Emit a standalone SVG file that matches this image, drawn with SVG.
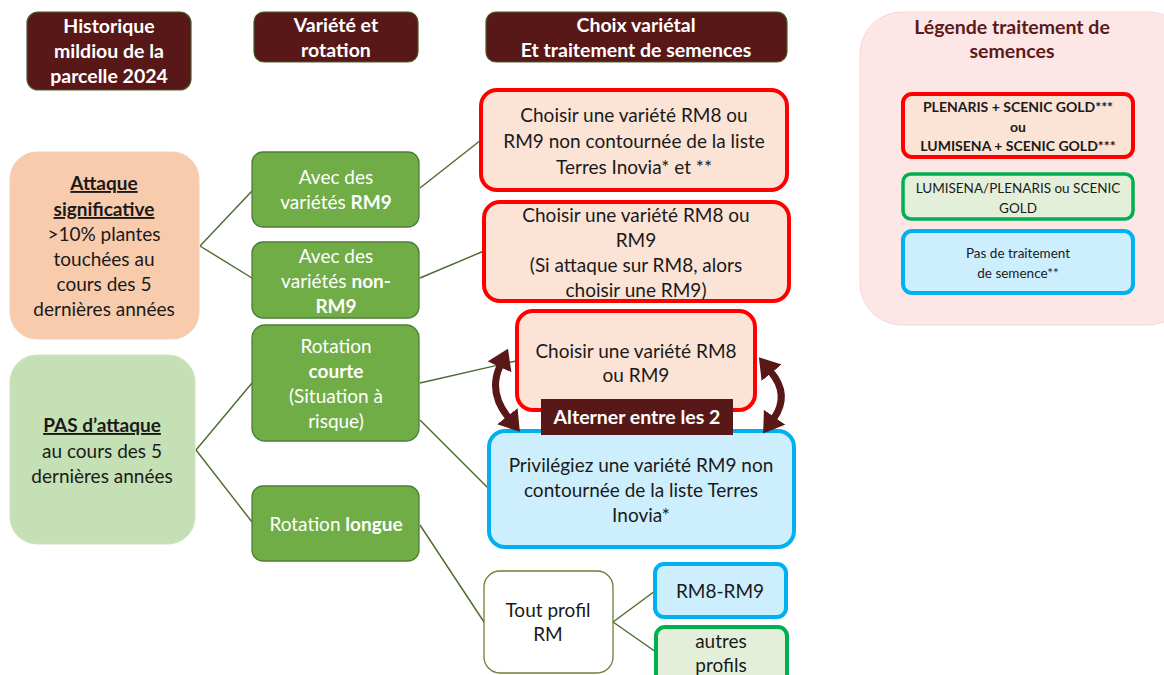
<svg xmlns="http://www.w3.org/2000/svg" width="1164" height="675" viewBox="0 0 1164 675">
<defs>
<style>
text{font-family:Lato,"Open Sans","Liberation Sans",sans-serif;text-anchor:middle;font-size:19px;fill:#1a1a1a}
.hd{fill:#581818;stroke:#4d5a2c;stroke-width:1.2}
.hdt{fill:#fff;font-weight:bold;font-size:19.5px}
.gr{fill:#70ad47;stroke:#4f7d33;stroke-width:1.3}
.grt{fill:#fff}
.red{fill:#fbe3d6;stroke:#ff0000;stroke-width:4}
.blue{fill:#cdeefd;stroke:#00b0f0;stroke-width:4}
.grn{fill:#e3efd9;stroke:#00b050;stroke-width:4}
.b{font-weight:bold}
.u{text-decoration:underline}
.lg{font-size:13.5px}
.lgb{font-size:14px;font-weight:bold}
.conn line{stroke:#4a6a2e;stroke-width:1.4}
</style>
<marker id="ah" markerUnits="userSpaceOnUse" markerWidth="24" markerHeight="26" refX="1" refY="13" orient="auto-start-reverse" viewBox="0 0 24 26">
<path d="M0,0 L20,13 L0,26 Z" fill="#581818"/>
</marker>
</defs>
<rect width="1164" height="675" fill="#fff"/>

<g id="connectors" class="conn">
<line x1="200" y1="246" x2="252" y2="191"/>
<line x1="200" y1="246" x2="252" y2="278"/>
<line x1="420" y1="188" x2="481" y2="140"/>
<line x1="420" y1="278" x2="484" y2="251"/>
<line x1="196" y1="450" x2="252" y2="383"/>
<line x1="196" y1="450" x2="252" y2="522"/>
<line x1="420" y1="383" x2="516" y2="361"/>
<line x1="420" y1="420" x2="489" y2="489"/>
<line x1="420" y1="525" x2="484" y2="622"/>
<line x1="613" y1="622" x2="655" y2="591"/>
<line x1="613" y1="622" x2="656" y2="652"/>
</g>

<g id="h1"><rect class="hd" x="27" y="12" width="164" height="78" rx="11"/>
<text class="hdt" x="109" y="33">Historique</text><text class="hdt" x="109" y="58">mildiou de la</text><text class="hdt" x="109" y="83">parcelle 2024</text></g>
<g id="h2"><rect class="hd" x="254" y="12" width="164" height="50" rx="10"/>
<text class="hdt" x="336" y="32">Variété et</text><text class="hdt" x="336" y="57">rotation</text></g>
<g id="h3"><rect class="hd" x="486" y="12" width="301" height="50" rx="10"/>
<text class="hdt" x="636" y="32">Choix variétal</text><text class="hdt" x="636" y="57">Et traitement de semences</text></g>

<g id="attaque"><rect x="10" y="152" width="189" height="187" rx="27" fill="#f8cbad" stroke="#f0d0bd" stroke-width="1"/>
<text x="104" y="190" class="b u">Attaque</text><text x="104" y="216" class="b u">significative</text>
<text x="104" y="241">&gt;10% plantes</text><text x="104" y="266">touchées au</text><text x="104" y="291">cours des 5</text><text x="104" y="316">dernières années</text></g>

<g id="pas"><rect x="10" y="355" width="185" height="189" rx="27" fill="#c5e0b4" stroke="#cfe3c3" stroke-width="1"/>
<text x="102" y="432" class="b u">PAS d’attaque</text><text x="102" y="458">au cours des 5</text><text x="102" y="483">dernières années</text></g>

<g id="rm9"><rect class="gr" x="252" y="152" width="167" height="75" rx="11"/>
<text class="grt" x="336" y="184">Avec des</text><text class="grt" x="336" y="209">variétés <tspan class="b" style="fill:#fff">RM9</tspan></text></g>
<g id="nonrm9"><rect class="gr" x="252" y="242" width="167" height="76" rx="11"/>
<text class="grt" x="336" y="263">Avec des</text><text class="grt" x="336" y="288">variétés <tspan class="b" style="fill:#fff">non-</tspan></text><text class="grt b" x="336" y="313">RM9</text></g>
<g id="courte"><rect class="gr" x="252" y="325" width="167" height="116" rx="13"/>
<text class="grt" x="336" y="353">Rotation</text><text class="grt b" x="336" y="378">courte</text><text class="grt" x="336" y="403">(Situation à</text><text class="grt" x="336" y="428">risque)</text></g>
<g id="longue"><rect class="gr" x="252" y="486" width="167" height="75" rx="11"/>
<text class="grt" x="336" y="531">Rotation <tspan class="b" style="fill:#fff">longue</tspan></text></g>

<g id="c1"><rect class="red" x="481" y="90" width="306" height="100" rx="16"/>
<text x="634" y="122">Choisir une variété RM8 ou</text><text x="634" y="148">RM9 non contournée de la liste</text><text x="634" y="174">Terres Inovia* et **</text></g>
<g id="c2"><rect class="red" x="484" y="202" width="305" height="99" rx="16"/>
<text x="636" y="222">Choisir une variété RM8 ou</text><text x="636" y="247">RM9</text><text x="636" y="272">(Si attaque sur RM8, alors</text><text x="636" y="297">choisir une RM9)</text></g>
<g id="c3"><rect class="red" x="517" y="311" width="238" height="99" rx="16"/>
<text x="636" y="358">Choisir une variété RM8</text><text x="636" y="382">ou RM9</text></g>
<g id="c4"><rect class="blue" x="489" y="431" width="305" height="116" rx="16"/>
<text x="641" y="472">Privilégiez une variété RM9 non</text><text x="641" y="497">contournée de la liste Terres</text><text x="641" y="522">Inovia*</text></g>

<g id="alt-arrows">
<path d="M500 366 Q488 392 508 417" fill="none" stroke="#581818" stroke-width="7" marker-start="url(#ah)" marker-end="url(#ah)"/>
<path d="M771 372 Q790 395 774 418" fill="none" stroke="#581818" stroke-width="7" marker-start="url(#ah)" marker-end="url(#ah)"/>
</g>
<g id="alterner"><rect x="541" y="399" width="192" height="36" fill="#581818"/>
<text x="637" y="424" class="b" style="fill:#fff;font-size:19.5px">Alterner entre les 2</text></g>

<g id="tout"><rect x="484" y="571" width="129" height="102" rx="16" fill="#fff" stroke="#6e7f3a" stroke-width="1.3"/>
<text x="548" y="617">Tout profil</text><text x="548" y="641">RM</text></g>
<g id="rm89"><rect class="blue" x="655" y="564" width="131" height="53" rx="9"/>
<text x="720" y="598">RM8-RM9</text></g>
<g id="autres"><rect class="grn" x="656" y="627" width="131" height="60" rx="9"/>
<text x="721" y="648">autres</text><text x="721" y="672">profils</text></g>

<g id="legende"><rect x="860" y="12" width="330" height="313" rx="42" fill="#fde6e6" stroke="#f3d6d6" stroke-width="1"/>
<text x="1012" y="34" class="b" style="fill:#5c1a1a;font-size:19.5px">Légende traitement de</text><text x="1012" y="58" class="b" style="fill:#5c1a1a;font-size:19.5px">semences</text>
<rect class="red" x="903" y="94" width="230" height="63" rx="9"/>
<text class="lgb" x="1018" y="112">PLENARIS + SCENIC GOLD***</text><text class="lgb" x="1018" y="132">ou</text><text class="lgb" x="1018" y="151">LUMISENA + SCENIC GOLD***</text>
<rect class="grn" x="903" y="174" width="230" height="45" rx="8" style="stroke-width:3.5"/>
<text class="lg" x="1018" y="193">LUMISENA/PLENARIS ou SCENIC</text><text class="lg" x="1018" y="213">GOLD</text>
<rect class="blue" x="903" y="231" width="230" height="62" rx="9"/>
<text class="lg" x="1018" y="258">Pas de traitement</text><text class="lg" x="1018" y="278">de semence**</text></g>
</svg>
